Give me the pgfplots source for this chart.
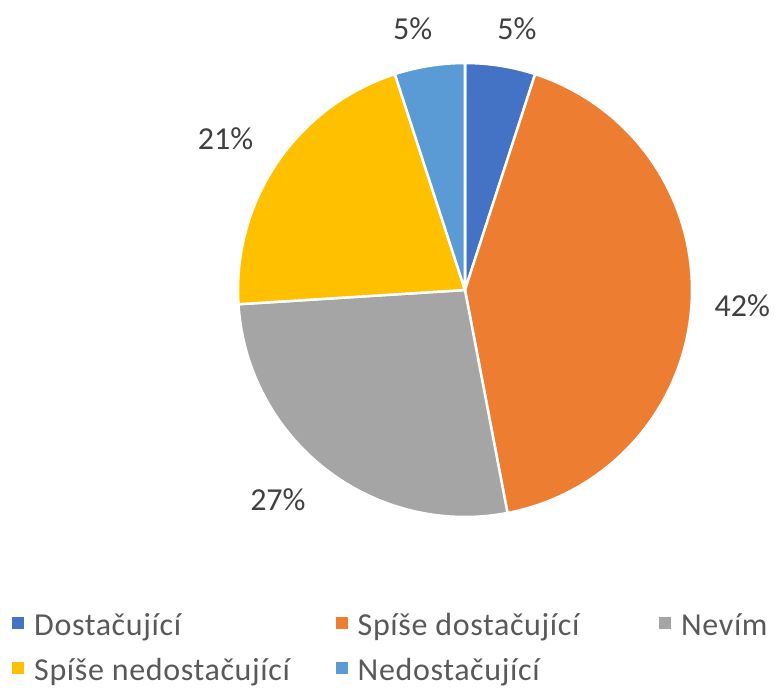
\documentclass[border=0pt]{standalone}
\usepackage{fontspec}
\setmainfont{Carlito}
\usepackage{pgfplots}
\pgfplotsset{compat=1.18}
\usepgfplotslibrary{polar}
\definecolor{cA}{HTML}{4472C4}
\definecolor{cB}{HTML}{ED7D31}
\definecolor{cC}{HTML}{A5A5A5}
\definecolor{cD}{HTML}{FFC000}
\definecolor{cE}{HTML}{5B9BD5}
\definecolor{labelgray}{HTML}{404040}
\definecolor{legendgray}{HTML}{595959}
% shares (percent): 5, 42, 27, 21, 5 ; slices start at 90 deg, clockwise, 3.6 deg per percent
\newcommand{\lgd}[1]{\makebox[311.5bp][l]{\hspace{10bp}\rule[-7bp]{0pt}{50.5bp}#1}}
\begin{document}
\begin{tikzpicture}
\path (0,0) rectangle (774bp,693bp);
\begin{polaraxis}[
  at={(465bp,403bp)}, anchor=center,
  scale only axis, width=454bp, height=454bp,
  ymin=0, ymax=1, hide axis, clip=false,
  legend columns=3,
  legend style={draw=none, fill=none, at={(-0.4978,-0.1641)}, anchor=north west,
    font=\fontsize{32bp}{38bp}\selectfont\addfontfeatures{LetterSpace=2}, text=legendgray,
    column sep=0pt, row sep=0pt, inner sep=0pt, nodes={inner sep=0pt}},
  legend image code/.code={\fill[#1, draw=none] (0bp,-15.25bp) rectangle (12bp,-3.25bp);},
  every axis plot/.append style={draw=white, line width=2.5bp},
]
\addplot[fill=cA, domain=72:90, samples=12] {1} -- (axis cs:0,0) -- cycle;
\addlegendentry{\lgd{Dostačující}}
\addplot[fill=cB, domain=-79.2:72, samples=80] {1} -- (axis cs:0,0) -- cycle;
\addlegendentry{\lgd{Spíše dostačující}}
\addplot[fill=cC, domain=-176.4:-79.2, samples=60] {1} -- (axis cs:0,0) -- cycle;
\addlegendentry{\hspace{10bp}\rule[-7bp]{0pt}{50.5bp}Nevím}
\addplot[fill=cD, domain=-252:-176.4, samples=50] {1} -- (axis cs:0,0) -- cycle;
\addlegendentry{\lgd{Spíše nedostačující}}
\addplot[fill=cE, domain=-270:-252, samples=12] {1} -- (axis cs:0,0) -- cycle;
\addlegendentry{\lgd{Nedostačující}}
\begin{scope}[every node/.style={font=\fontsize{32bp}{38bp}\selectfont, text=labelgray}]
\node at (axis cs:78.75,1.174) {5\%};
\node at (axis cs:-3.3,1.224) {42\%};
\node at (axis cs:-131.7,1.239) {27\%};
\node at (axis cs:147.7,1.248) {21\%};
\node at (axis cs:101.3,1.175) {5\%};
\end{scope}
\end{polaraxis}
\end{tikzpicture}
\end{document}
